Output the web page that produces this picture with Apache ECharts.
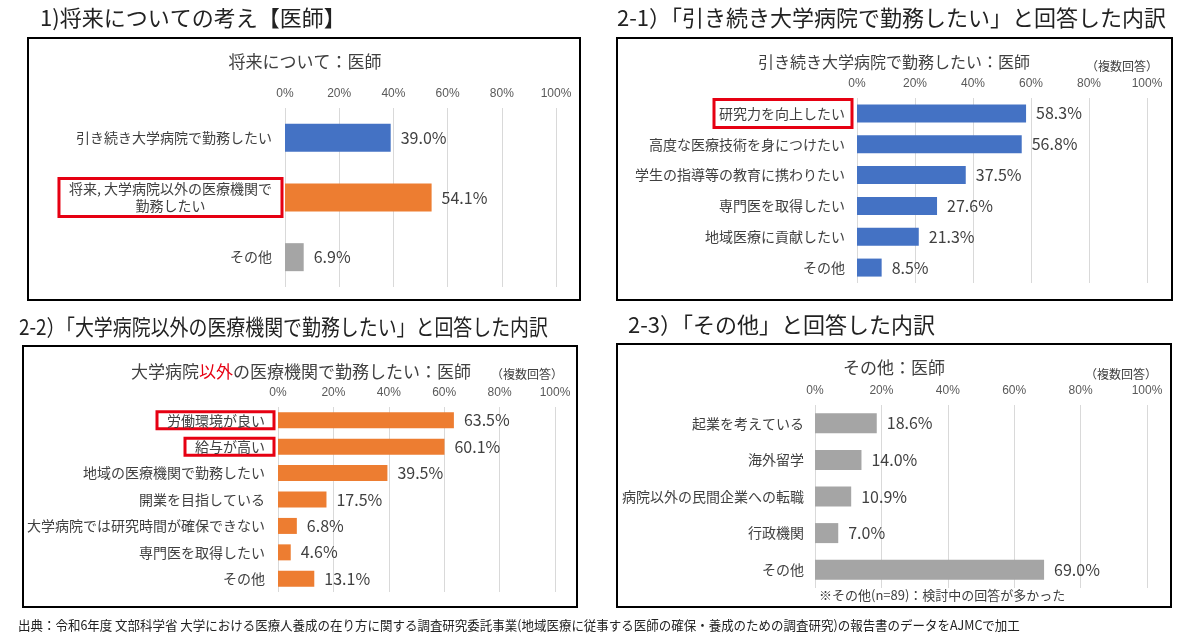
<!DOCTYPE html>
<html>
<head>
<meta charset="utf-8">
<script src="https://cdn.jsdelivr.net/npm/echarts@6/dist/echarts.min.js"></script>
<style>
  html, body { margin: 0; padding: 0; background: #fff; }
  #chart { width: 1200px; height: 635px; }
</style>
</head>
<body>
<div id="chart"></div>
<script>
// ---- data ----
const pctTicks = [0, 20, 40, 60, 80, 100];

const cats1 = ['引き続き大学病院で勤務したい', '将来, 大学病院以外の医療機関で\n勤務したい', 'その他'];
const vals1 = [39.0, 54.1, 6.9];
const hl1   = [1];

const cats2 = ['研究力を向上したい', '高度な医療技術を身につけたい', '学生の指導等の教育に携わりたい', '専門医を取得したい', '地域医療に貢献したい', 'その他'];
const vals2 = [58.3, 56.8, 37.5, 27.6, 21.3, 8.5];
const hl2   = [0];

const cats3 = ['労働環境が良い', '給与が高い', '地域の医療機関で勤務したい', '開業を目指している', '大学病院では研究時間が確保できない', '専門医を取得したい', 'その他'];
const vals3 = [63.5, 60.1, 39.5, 17.5, 6.8, 4.6, 13.1];
const hl3   = [0, 1];

const cats4 = ['起業を考えている', '海外留学', '病院以外の民間企業への転職', '行政機関', 'その他'];
const vals4 = [18.6, 14.0, 10.9, 7.0, 69.0];
const hl4   = [];

const BLUE = '#4472C4', ORANGE = '#ED7D31', GRAY = '#A5A5A5', RED = '#E60012';
const JP = '"Noto Sans CJK JP", "Noto Sans", sans-serif';
const TXT = '#404040';

// one panel = grid + axes + bar series
const panels = [
  { cats: cats1, vals: vals1, hl: hl1, colors: [BLUE, ORANGE, GRAY],
    grid: { left: 285, right: 644, top: 108, bottom: 348 }, barWidth: 28,
    margin: 3, padRight: 10, hlPad: [2, 10, 2, 10] },
  { cats: cats2, vals: vals2, hl: hl2, colors: [BLUE],
    grid: { left: 857, right: 53, top: 98, bottom: 352 }, barWidth: 18,
    margin: 5, padRight: 7, hlPad: [5, 7, 5, 5] },
  { cats: cats3, vals: vals3, hl: hl3, colors: [ORANGE],
    grid: { left: 278, right: 645, top: 407, bottom: 43 }, barWidth: 16,
    margin: 4, padRight: 9, hlPad: [1, 9, 1, 10] },
  { cats: cats4, vals: vals4, hl: hl4, colors: [GRAY],
    grid: { left: 815, right: 53, top: 405, bottom: 47 }, barWidth: 20,
    margin: 11, padRight: 0, hlPad: [0, 0, 0, 0] }
];

const grids = [], xAxes = [], yAxes = [], series = [];

panels.forEach((p, i) => {
  grids.push(p.grid);

  xAxes.push({
    type: 'value', gridIndex: i, position: 'top',
    min: pctTicks[0], max: pctTicks[pctTicks.length - 1], interval: 20,
    axisLine: { show: false }, axisTick: { show: false },
    axisLabel: {
      formatter: '{value}%', margin: 8,
      fontFamily: '"Liberation Sans Narrow", "Liberation Sans", sans-serif',
      fontSize: 12, color: '#595959'
    },
    splitLine: { lineStyle: { color: '#D9D9D9', width: 1 } }
  });

  yAxes.push({
    type: 'category', gridIndex: i, inverse: true,
    axisLine: { show: false }, axisTick: { show: false },
    axisLabel: {
      margin: p.margin, fontSize: 14, fontFamily: JP, color: TXT,
      padding: [0, p.padRight, 0, 0], lineHeight: 17,
      formatter: v => v.indexOf('\n') >= 0
        ? v.split('\n').map(s => '{c|' + s + '}').join('\n') : v,
      rich: { c: { align: 'center', fontSize: 14, fontFamily: JP, color: TXT, lineHeight: 17 } }
    },
    data: p.cats.map((c, j) => p.hl.includes(j) ? {
      value: c,
      textStyle: { borderColor: RED, borderWidth: 3, padding: p.hlPad,
                   lineHeight: i === 2 ? 15 : (i === 1 ? 18 : 17) }
    } : c)
  });

  series.push({
    type: 'bar', xAxisIndex: i, yAxisIndex: i,
    barWidth: p.barWidth,
    data: p.vals.map((v, j) => ({ value: v, itemStyle: { color: p.colors[j % p.colors.length] } })),
    label: {
      show: true, position: 'right', distance: 10,
      formatter: d => d.value.toFixed(1) + '%',
      fontSize: 16, fontFamily: JP, color: TXT
    },
    silent: true, animation: false
  });
});

function txt(x, y, text, size, opts = {}) {
  return {
    type: 'text', x, y, silent: true, scaleX: opts.scaleX || 1,
    style: Object.assign({
      text, fontSize: size, fontFamily: JP, fill: opts.fill || TXT,
      align: opts.align || 'left', verticalAlign: 'middle'
    }, opts.style || {})
  };
}
function box(x, y, w, h) {
  return { type: 'rect', shape: { x, y, width: w, height: h }, silent: true,
           style: { fill: 'none', stroke: '#000', lineWidth: 2 } };
}

const graphics = [
  box(28, 38, 552, 262),
  box(617, 38, 555, 262),
  box(23, 346, 554, 261),
  box(617, 344, 554, 263),

  txt(40, 18, '1)将来についての考え【医師】', 22, { fill: '#222' }),
  txt(617, 18, '2-1）「引き続き大学病院で勤務したい」と回答した内訳', 22, { fill: '#222' }),
  txt(19, 327, '2-2）「大学病院以外の医療機関で勤務したい」と回答した内訳', 22, { fill: '#222', scaleX: 0.86 }),
  txt(628, 325, '2-3）「その他」と回答した内訳', 22, { fill: '#222' }),

  txt(305, 62, '将来について：医師', 17, { align: 'center' }),
  txt(894, 62, '引き続き大学病院で勤務したい：医師', 16, { align: 'center' }),
  txt(301, 372, '大学病院{r|以外}の医療機関で勤務したい：医師', 17, {
    align: 'center',
    style: { rich: { r: { fill: RED, fontSize: 17, fontFamily: JP } } }
  }),
  txt(894, 368, 'その他：医師', 17, { align: 'center' }),

  txt(1122, 66, '（複数回答）', 12, { align: 'center' }),
  txt(527, 374, '（複数回答）', 12, { align: 'center' }),
  txt(1121, 374, '（複数回答）', 12, { align: 'center' }),

  txt(819, 595, '※その他(n=89)：検討中の回答が多かった', 13),
  txt(18, 625, '出典：令和6年度 文部科学省 大学における医療人養成の在り方に関する調査研究委託事業(地域医療に従事する医師の確保・養成のための調査研究)の報告書のデータをAJMCで加工', 13, { fill: '#222', scaleX: 0.96 })
];

const chart = echarts.init(document.getElementById('chart'));
chart.setOption({
  backgroundColor: '#fff',
  animation: false,
  grid: grids,
  xAxis: xAxes,
  yAxis: yAxes,
  series: series,
  graphic: graphics
});
</script>
</body>
</html>
